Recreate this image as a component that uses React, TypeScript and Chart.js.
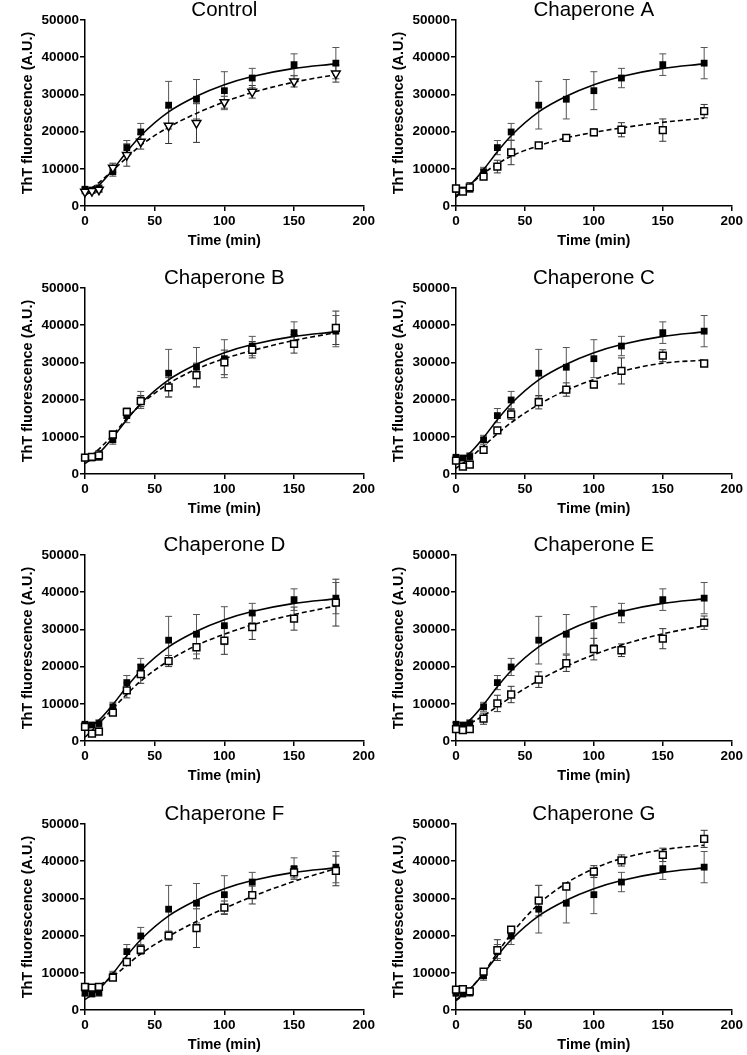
import React, { useEffect, useRef } from "react";
import { Chart, registerables } from "chart.js";

Chart.register(...registerables);

// ---- data -------------------------------------------------------------
const TIMES = [0, 5, 10, 20, 30, 40, 60, 80, 100, 120, 150, 180];
const FIT_TIMES = [0, 10, 20, 30, 40, 60, 80, 100, 120, 150, 180];

const TITLES = [
  "Control",
  "Chaperone A",
  "Chaperone B",
  "Chaperone C",
  "Chaperone D",
  "Chaperone E",
  "Chaperone F",
  "Chaperone G",
];

// filled squares (control), identical in every panel
const CTRL_MEAN = [4500, 4300, 4700, 9200, 15700, 19900, 27100, 28700, 31000, 34400, 38000, 38400];
const CTRL_SD = [500, 600, 1000, 1200, 1900, 2300, 6400, 5300, 5100, 2600, 2900, 4200];
const CTRL_FIT = [2800, 5600, 9800, 14600, 18900, 25300, 29500, 32600, 34800, 37000, 38200];

// open markers per panel
const CONTROL2_MEAN = [3800, 4000, 4400, 10300, 13700, 17300, 21600, 22300, 27900, 30700, 33500, 35600];
const CONTROL2_SD = [500, 600, 700, 1200, 3000, 2000, 4800, 5200, 1600, 1700, 1500, 2300];
const CONTROL2_FIT = [3500, 6300, 9600, 13000, 16300, 21200, 24900, 28000, 30500, 33300, 35300];

const A_MEAN = [4700, 3900, 5000, 7900, 10600, 14400, 16300, 18300, 19800, 20500, 20400, 25500];
const A_SD = [700, 800, 1300, 800, 1700, 3300, 700, 500, 900, 1900, 3000, 1800];
const A_FIT = [2400, 5700, 8800, 11300, 13400, 16200, 18300, 19800, 21000, 22500, 23600];

const B_MEAN = [4400, 4600, 5000, 10600, 16700, 19600, 23300, 26600, 30000, 33400, 35000, 39300];
const B_SD = [600, 800, 1300, 1000, 1000, 1500, 2600, 3200, 3300, 2200, 2500, 4500];
const B_FIT = [3500, 6700, 10500, 14900, 18700, 24300, 28200, 31000, 33200, 35900, 38000];

const C_MEAN = [3600, 2000, 2500, 6500, 11700, 16000, 19300, 22700, 24000, 27700, 31800, 29700];
const C_SD = [500, 500, 700, 700, 800, 1300, 1800, 1800, 800, 3500, 1600, 700];
const C_FIT = [1500, 4300, 7500, 10800, 13800, 18700, 22500, 25400, 27600, 29800, 30600];

const D_MEAN = [3800, 2000, 2500, 7600, 13600, 18000, 21500, 25200, 27000, 30600, 32900, 37200];
const D_SD = [600, 500, 700, 700, 2000, 2500, 1500, 3100, 3700, 3300, 3100, 6300];
const D_FIT = [1000, 4700, 8700, 12600, 16100, 21600, 25700, 28700, 31200, 34000, 36300];

const E_MEAN = [3200, 2900, 3200, 6000, 10100, 12500, 16500, 20900, 24700, 24400, 27500, 31800];
const E_SD = [500, 500, 900, 1500, 2200, 2200, 2100, 2200, 2900, 1700, 2700, 1800];
const E_FIT = [3000, 4700, 6800, 9300, 11800, 16300, 20100, 23200, 25800, 28800, 31000];

const F_MEAN = [6200, 6000, 6200, 8700, 12900, 16200, 20000, 22000, 27500, 30900, 37000, 37400];
const F_SD = [500, 700, 800, 700, 800, 1200, 1200, 5200, 1800, 2400, 1500, 4000];
const F_FIT = [5200, 6600, 9000, 12000, 15100, 19800, 23800, 27300, 30500, 34600, 38000];

const G_MEAN = [5500, 5600, 5000, 10300, 16100, 21600, 29400, 33200, 37200, 40200, 41700, 46000];
const G_SD = [500, 600, 900, 800, 2800, 800, 4100, 600, 1600, 1500, 1800, 2300];
const G_FIT = [2500, 5600, 10000, 15400, 20400, 28500, 34100, 38000, 40700, 43100, 44300];

const OPEN_MEANS = [CONTROL2_MEAN, A_MEAN, B_MEAN, C_MEAN, D_MEAN, E_MEAN, F_MEAN, G_MEAN];
const OPEN_SDS = [CONTROL2_SD, A_SD, B_SD, C_SD, D_SD, E_SD, F_SD, G_SD];
const OPEN_FITS = [CONTROL2_FIT, A_FIT, B_FIT, C_FIT, D_FIT, E_FIT, F_FIT, G_FIT];

const X_TICKS = [0, 50, 100, 150, 200];
const Y_TICKS = [0, 10000, 20000, 30000, 40000, 50000];
const X_LABEL = "Time (min)";
const Y_LABEL = "ThT fluorescence (A.U.)";

// ---- layout -------------------------------------------------------------
const FONT = '"Liberation Sans", Arial, Helvetica, sans-serif';
const COL_LEFT = [0, 371];
const COL_WIDTH = [377, 374];
const ROW_TOP = [0, 268, 535, 804];
const CANVAS_H = 251;

const pts = (xs: number[], ys: number[]) => xs.map((x, i) => ({ x, y: ys[i] }));

const errorBars = {
  id: "errorBars",
  beforeDatasetsDraw(chart: any) {
    const { ctx } = chart;
    const yScale = chart.scales.y;
    chart.data.datasets.forEach((ds: any, i: number) => {
      if (!ds.errors) return;
      const meta = chart.getDatasetMeta(i);
      ctx.save();
      ctx.strokeStyle = ds.errorColor || "#555";
      ctx.lineWidth = 1;
      meta.data.forEach((el: any, j: number) => {
        const v = ds.data[j].y;
        const e = ds.errors[j];
        const yt = yScale.getPixelForValue(v + e);
        const yb = yScale.getPixelForValue(v - e);
        const x = el.x;
        ctx.beginPath();
        ctx.moveTo(x, yt);
        ctx.lineTo(x, yb);
        ctx.moveTo(x - 3.5, yt);
        ctx.lineTo(x + 3.5, yt);
        ctx.moveTo(x - 3.5, yb);
        ctx.lineTo(x + 3.5, yb);
        ctx.stroke();
      });
      ctx.restore();
    });
  },
};

const panelTitle = {
  id: "panelTitle",
  afterDraw(chart: any, _args: any, opts: any) {
    const { ctx, chartArea } = chart;
    ctx.save();
    ctx.font = `20.5px ${FONT}`;
    ctx.fillStyle = "#000";
    ctx.textAlign = "center";
    ctx.textBaseline = "alphabetic";
    ctx.fillText(opts.text, (chartArea.left + chartArea.right) / 2, chartArea.top - 4);
    ctx.restore();
  },
};

function Panel({ index }: { index: number }) {
  const ref = useRef<HTMLCanvasElement | null>(null);
  const col = index % 2;
  const row = Math.floor(index / 2);
  const width = COL_WIDTH[col];

  useEffect(() => {
    if (!ref.current) return;
    const isControl = index === 0;
    const tickFont = { family: FONT, size: 13.5, weight: "bold" as const };
    const titleFont = { family: FONT, size: 14.5, weight: "bold" as const };
    const chart = new Chart(ref.current, {
      type: "scatter",
      data: {
        datasets: [
          {
            data: pts(TIMES, OPEN_MEANS[index]),
            errors: OPEN_SDS[index],
            errorColor: "#333",
            pointStyle: isControl ? "triangle" : "rect",
            rotation: isControl ? 180 : 0,
            pointRadius: isControl ? 5 : 4.8,
            backgroundColor: "#fff",
            borderColor: "#000",
            borderWidth: 1.5,
            showLine: false,
            clip: false,
          } as any,
          {
            data: pts(TIMES, CTRL_MEAN),
            errors: CTRL_SD,
            errorColor: "#555",
            pointStyle: "rect",
            pointRadius: 4.8,
            backgroundColor: "#000",
            borderColor: "#000",
            borderWidth: 0,
            showLine: false,
            clip: false,
          } as any,
          {
            data: pts(FIT_TIMES, CTRL_FIT),
            showLine: true,
            pointRadius: 0,
            borderColor: "#000",
            borderWidth: 1.6,
            cubicInterpolationMode: "monotone",
            clip: false,
          } as any,
          {
            data: pts(FIT_TIMES, OPEN_FITS[index]),
            showLine: true,
            pointRadius: 0,
            borderColor: "#000",
            borderWidth: 1.6,
            borderDash: [5, 3],
            cubicInterpolationMode: "monotone",
            clip: false,
          } as any,
        ],
      },
      options: {
        responsive: false,
        animation: false,
        events: [],
        layout: { padding: { left: 0, right: 12, top: 20, bottom: 0 } },
        plugins: {
          legend: { display: false },
          tooltip: { enabled: false },
          panelTitle: { text: TITLES[index] },
        } as any,
        scales: {
          x: {
            type: "linear",
            min: 0,
            max: 200,
            afterFit: (s: any) => {
              s.height = 45;
            },
            afterBuildTicks: (s: any) => {
              s.ticks = X_TICKS.map((v) => ({ value: v }));
            },
            ticks: {
              color: "#000",
              font: tickFont,
              padding: 2,
              maxRotation: 0,
              callback: (v: any) => String(v),
            },
            grid: {
              display: true,
              drawOnChartArea: false,
              drawTicks: true,
              tickLength: 5,
              color: "#000",
              lineWidth: 1.5,
            },
            border: { display: true, color: "#000", width: 1.5 },
            title: {
              display: true,
              text: X_LABEL,
              color: "#000",
              font: titleFont,
              padding: { top: 0, bottom: 1 },
            },
          },
          y: {
            type: "linear",
            min: 0,
            max: 50000,
            afterFit: (s: any) => {
              s.width = 85;
            },
            afterBuildTicks: (s: any) => {
              s.ticks = Y_TICKS.map((v) => ({ value: v }));
            },
            ticks: {
              color: "#000",
              font: tickFont,
              padding: 1,
              callback: (v: any) => String(v),
            },
            grid: {
              display: true,
              drawOnChartArea: false,
              drawTicks: true,
              tickLength: 5,
              color: "#000",
              lineWidth: 1.5,
            },
            border: { display: true, color: "#000", width: 1.5 },
            title: {
              display: true,
              text: Y_LABEL,
              color: "#000",
              font: titleFont,
              padding: { top: 19, bottom: 0 },
            },
          },
        },
      } as any,
      plugins: [errorBars, panelTitle],
    });
    return () => chart.destroy();
  }, [index]);

  return (
    <canvas
      ref={ref}
      width={width}
      height={CANVAS_H}
      style={{
        position: "absolute",
        left: COL_LEFT[col],
        top: ROW_TOP[row],
        width,
        height: CANVAS_H,
      }}
    />
  );
}

export default function App() {
  return (
    <div
      style={{
        position: "absolute",
        left: 0,
        top: 0,
        width: 747,
        height: 1055,
        background: "#fff",
        overflow: "hidden",
      }}
    >
      {TITLES.map((_, i) => (
        <Panel key={i} index={i} />
      ))}
    </div>
  );
}
